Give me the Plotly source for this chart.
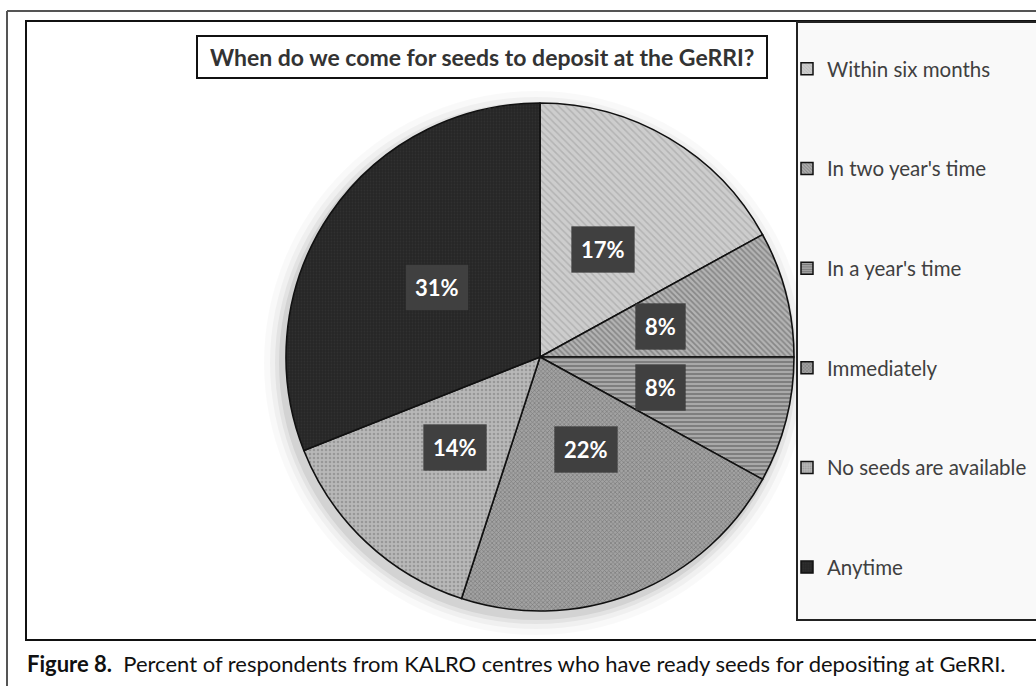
import math
import plotly.graph_objects as go

categories = ["Within six months", "In two year's time", "In a year's time",
              "Immediately", "No seeds are available", "Anytime"]
values = [17, 8, 8, 22, 14, 31]
label_text = ["17%", "8%", "8%", "22%", "14%", "31%"]

title_text = "When do we come for seeds to deposit at the GeRRI?"
caption_bold = "Figure 8."
caption_text = "Percent of respondents from KALRO centres who have ready seeds for depositing at GeRRI."

# styles
bg_colors = ["#cdcdcd", "#b4b4b4", "#a9a9a9", "#a2a2a2", "#b8b8b8", "#262626"]
fg_colors = ["#9a9a9a", "#5a5a5a", "#4a4a4a", "#555555", "#777777", "#3a3a3a"]
shapes_pat = ["\\", "\\", "-", "x", ".", "."]
sizes_pat = [5, 4, 4, 3, 4, 3]
solid_pat = [0.3, 0.45, 0.45, 0.4, 0.35, 0.3]

W, H = 1036, 686
CX, CY, R = 540, 357, 254
FONT = "Lato"

fig = go.Figure()

fig.add_trace(go.Pie(
    labels=categories, values=values, sort=False, direction="clockwise",
    rotation=0, textinfo="none", hoverinfo="label+percent", showlegend=False,
    domain=dict(x=[(CX - R) / W, (CX + R) / W], y=[1 - (CY + R) / H, 1 - (CY - R) / H]),
    marker=dict(colors=bg_colors, line=dict(color="#111111", width=1.6),
                pattern=dict(shape=shapes_pat, fgcolor=fg_colors, bgcolor=bg_colors,
                             size=sizes_pat, solidity=solid_pat, fillmode="overlay")),
))

# legend-only entries
for i, c in enumerate(categories):
    fig.add_trace(go.Bar(
        x=[None], y=[None], name=c, legendgroup=c, showlegend=True,
        marker=dict(color=bg_colors[i], line=dict(color="#111111", width=1.5),
                    pattern=dict(shape=shapes_pat[i], fgcolor=fg_colors[i], bgcolor=bg_colors[i],
                                 size=3, solidity=solid_pat[i], fillmode="overlay")),
    ))

shapes = []
# soft shadow halo behind pie
for k, a in [(18, 0.025), (12, 0.035), (7, 0.05), (3, 0.07)]:
    shapes.append(dict(type="circle", xref="paper", yref="paper", layer="below",
                       x0=(CX - 4 - R - k) / W, x1=(CX - 4 + R + k) / W,
                       y0=1 - (CY + 6 + R + k) / H, y1=1 - (CY + 6 - R - k) / H,
                       fillcolor=f"rgba(0,0,0,{a})", line=dict(width=0)))
# outer gray frame
shapes.append(dict(type="line", xref="paper", yref="paper", x0=7 / W, x1=7 / W, y0=0, y1=1 - 11 / H,
                   line=dict(color="#555555", width=2)))
shapes.append(dict(type="line", xref="paper", yref="paper", x0=7 / W, x1=1.0, y0=1 - 11 / H, y1=1 - 11 / H,
                   line=dict(color="#555555", width=2)))
# inner chart box
shapes.append(dict(type="rect", xref="paper", yref="paper", layer="below",
                   x0=26 / W, x1=1.02, y0=1 - 640 / H, y1=1 - 21 / H,
                   line=dict(color="#111111", width=2), fillcolor="rgba(0,0,0,0)"))
# legend box
shapes.append(dict(type="rect", xref="paper", yref="paper", layer="below",
                   x0=797 / W, x1=1.02, y0=1 - 620 / H, y1=1 - 22 / H,
                   line=dict(color="#222222", width=2), fillcolor="#f9f9f9"))
# title box
shapes.append(dict(type="rect", xref="paper", yref="paper",
                   x0=197 / W, x1=767 / W, y0=1 - 78 / H, y1=1 - 36 / H,
                   line=dict(color="#111111", width=2), fillcolor="white"))

annotations = []
annotations.append(dict(xref="paper", yref="paper", x=482 / W, y=1 - 57 / H, text="<b>" + title_text + "</b>",
                        showarrow=False, font=dict(family=FONT, size=23, color="#333333"),
                        xanchor="center", yanchor="middle"))
annotations.append(dict(xref="paper", yref="paper", x=25 / W, y=1 - 663 / H,
                        text="<b>" + caption_bold + "</b>  " + caption_text,
                        showarrow=False, font=dict(family=FONT, size=22, color="#111111"),
                        xanchor="left", yanchor="middle"))

# data labels at slice mid-angles
total = sum(values)
cum = 0
for v, t in zip(values, label_text):
    mid = (cum + v / 2) / total * 2 * math.pi
    cum += v
    d = 0.49 * R
    px = CX + d * math.sin(mid)
    py = CY - d * math.cos(mid)
    annotations.append(dict(xref="paper", yref="paper", x=px / W, y=1 - py / H,
                            text="<b>" + t + "</b>", showarrow=False,
                            font=dict(family=FONT, size=22, color="white"),
                            bgcolor="#404040", borderpad=9,
                            bordercolor="rgba(0,0,0,0.15)", borderwidth=1))

fig.update_layout(
    width=W, height=H, margin=dict(l=0, r=0, t=0, b=0, autoexpand=False),
    paper_bgcolor="white", plot_bgcolor="rgba(0,0,0,0)",
    xaxis=dict(visible=False, domain=[0, 0.01]), yaxis=dict(visible=False, domain=[0, 0.01]),
    shapes=shapes, annotations=annotations,
    showlegend=True,
    legend=dict(x=787 / W, y=1 - 49 / H, xanchor="left", yanchor="top",
                bgcolor="rgba(0,0,0,0)", font=dict(family=FONT, size=20.5, color="#404040"),
                tracegroupgap=70, itemclick=False),
)

fig.write_html("out.html")
